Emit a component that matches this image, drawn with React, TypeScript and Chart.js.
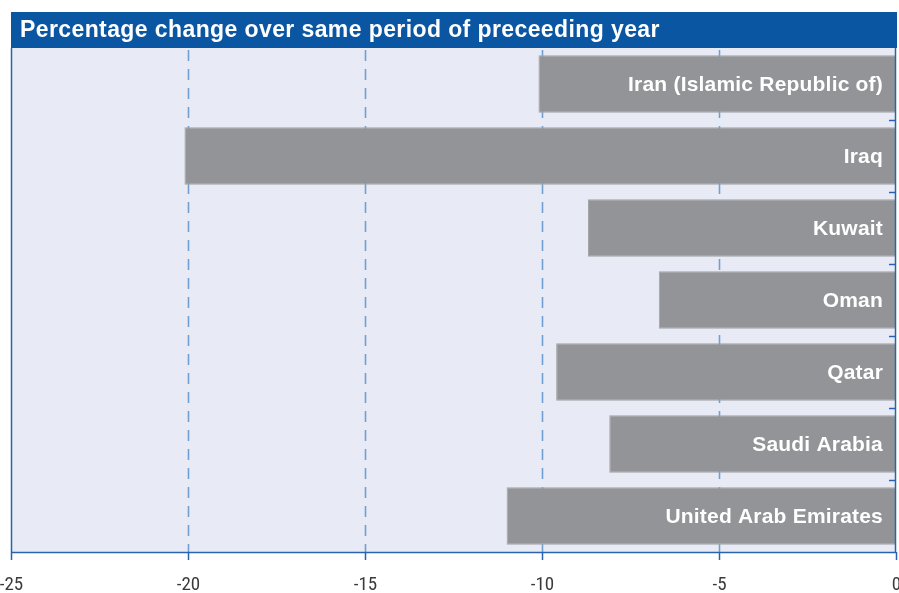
import React, { useEffect, useRef } from "react";
import { Chart, registerables } from "chart.js";

Chart.register(...registerables);

const titleText = "Percentage change over same period of preceeding year";
const countries = [
  "Iran (Islamic Republic of)",
  "Iraq",
  "Kuwait",
  "Oman",
  "Qatar",
  "Saudi Arabia",
  "United Arab Emirates",
];
const changes = [-10.1, -20.1, -8.7, -6.7, -9.6, -8.1, -11.0];
const xMin = -25;
const xMax = 0;
const xStep = 5;
const xTickLabels = ["-25", "-20", "-15", "-10", "-5", "0"];

const BLUE = "#0a56a2";
const AXIS_BLUE = "#2a63ad";
const DASH_BLUE = "#6f9fd3";

const decorPlugin = {
  id: "decor",
  beforeDraw(chart: any) {
    const { ctx, chartArea } = chart;
    const xScale = chart.scales.x;
    ctx.save();
    ctx.fillStyle = "#e8ebf5";
    ctx.fillRect(chartArea.left, chartArea.top, chartArea.right - chartArea.left, chartArea.bottom - chartArea.top);
    ctx.fillStyle = BLUE;
    ctx.fillRect(chartArea.left, 12, chartArea.right - chartArea.left + 1, chartArea.top - 12);
    ctx.fillStyle = "#ffffff";
    ctx.font = "bold 23px 'Liberation Sans', Arial, sans-serif";
    (ctx as any).letterSpacing = "0.4px";
    ctx.textBaseline = "middle";
    ctx.textAlign = "left";
    ctx.fillText(titleText, chartArea.left + 9, (12 + chartArea.top) / 2 + 1);
    (ctx as any).letterSpacing = "0px";
    ctx.strokeStyle = DASH_BLUE;
    ctx.lineWidth = 1.6;
    ctx.setLineDash([11, 8]);
    ctx.lineDashOffset = -2;
    for (let v = xMin + xStep; v < xMax; v += xStep) {
      const x = Math.round(xScale.getPixelForValue(v)) + 0.5;
      ctx.beginPath();
      ctx.moveTo(x, chartArea.top);
      ctx.lineTo(x, chartArea.bottom);
      ctx.stroke();
    }
    ctx.setLineDash([]);
    ctx.strokeStyle = AXIS_BLUE;
    ctx.lineWidth = 1.5;
    ctx.fillStyle = "#3a3a3a";
    ctx.font = "19px 'Liberation Sans Narrow', 'Roboto Condensed', 'Liberation Sans', Arial, sans-serif";
    ctx.textAlign = "center";
    ctx.textBaseline = "middle";
    xTickLabels.forEach((lab, i) => {
      const v = xMin + i * xStep;
      const x = Math.round(xScale.getPixelForValue(v)) + 0.5;
      ctx.beginPath();
      ctx.moveTo(x, chartArea.bottom);
      ctx.lineTo(x, chartArea.bottom + 8);
      ctx.stroke();
      ctx.fillText(lab, x, chartArea.bottom + 33);
    });
    ctx.restore();
  },
  afterDatasetsDraw(chart: any) {
    const { ctx, chartArea } = chart;
    const yScale = chart.scales.y;
    const meta = chart.getDatasetMeta(0);
    ctx.save();
    ctx.strokeStyle = AXIS_BLUE;
    ctx.lineWidth = 1.5;
    ctx.beginPath();
    ctx.moveTo(chartArea.left + 0.5, chartArea.top);
    ctx.lineTo(chartArea.left + 0.5, chartArea.bottom);
    ctx.stroke();
    ctx.beginPath();
    ctx.moveTo(chartArea.right - 0.5, chartArea.top);
    ctx.lineTo(chartArea.right - 0.5, chartArea.bottom);
    ctx.stroke();
    ctx.beginPath();
    ctx.moveTo(chartArea.left, chartArea.bottom + 0.5);
    ctx.lineTo(chartArea.right, chartArea.bottom + 0.5);
    ctx.stroke();
    const n = countries.length;
    for (let i = 1; i < n; i++) {
      const y = (yScale.getPixelForValue(i - 1) + yScale.getPixelForValue(i)) / 2;
      ctx.beginPath();
      ctx.moveTo(chartArea.right - 7, Math.round(y) + 0.5);
      ctx.lineTo(chartArea.right, Math.round(y) + 0.5);
      ctx.stroke();
    }
    ctx.fillStyle = "#ffffff";
    ctx.font = "bold 21px 'Liberation Sans', Arial, sans-serif";
    (ctx as any).letterSpacing = "0.2px";
    ctx.textAlign = "right";
    ctx.textBaseline = "middle";
    meta.data.forEach((bar: any, i: number) => {
      ctx.fillText(countries[i], chartArea.right - 13, bar.y + 1);
    });
    ctx.restore();
  },
};

export default function App() {
  const ref = useRef<HTMLCanvasElement>(null);
  useEffect(() => {
    if (!ref.current) return;
    const chart = new Chart(ref.current, {
      type: "bar",
      data: {
        labels: countries,
        datasets: [
          {
            data: changes,
            backgroundColor: "#939497",
            borderColor: "#a2a3a6",
            borderWidth: 1,
            borderSkipped: false,
            barPercentage: 0.8,
            categoryPercentage: 1,
          },
        ],
      },
      options: {
        indexAxis: "y",
        animation: false,
        responsive: true,
        maintainAspectRatio: false,
        layout: { padding: { left: 11, right: 3, top: 48, bottom: 0 } },
        plugins: { legend: { display: false }, tooltip: { enabled: false }, title: { display: false } },
        scales: {
          x: {
            min: xMin,
            max: xMax,
            afterFit: (s: any) => {
              s.height = 41;
            },
            ticks: { display: false, stepSize: xStep },
            grid: { display: false },
            border: { display: false },
          },
          y: {
            position: "right",
            afterFit: (s: any) => {
              s.width = 0;
            },
            ticks: { display: false },
            grid: { display: false },
            border: { display: false },
          },
        },
      },
      plugins: [decorPlugin],
    } as any);
    return () => chart.destroy();
  }, []);
  return (
    <div style={{ position: "absolute", left: 0, top: 0, width: 899, height: 593 }}>
      <canvas ref={ref} />
    </div>
  );
}
